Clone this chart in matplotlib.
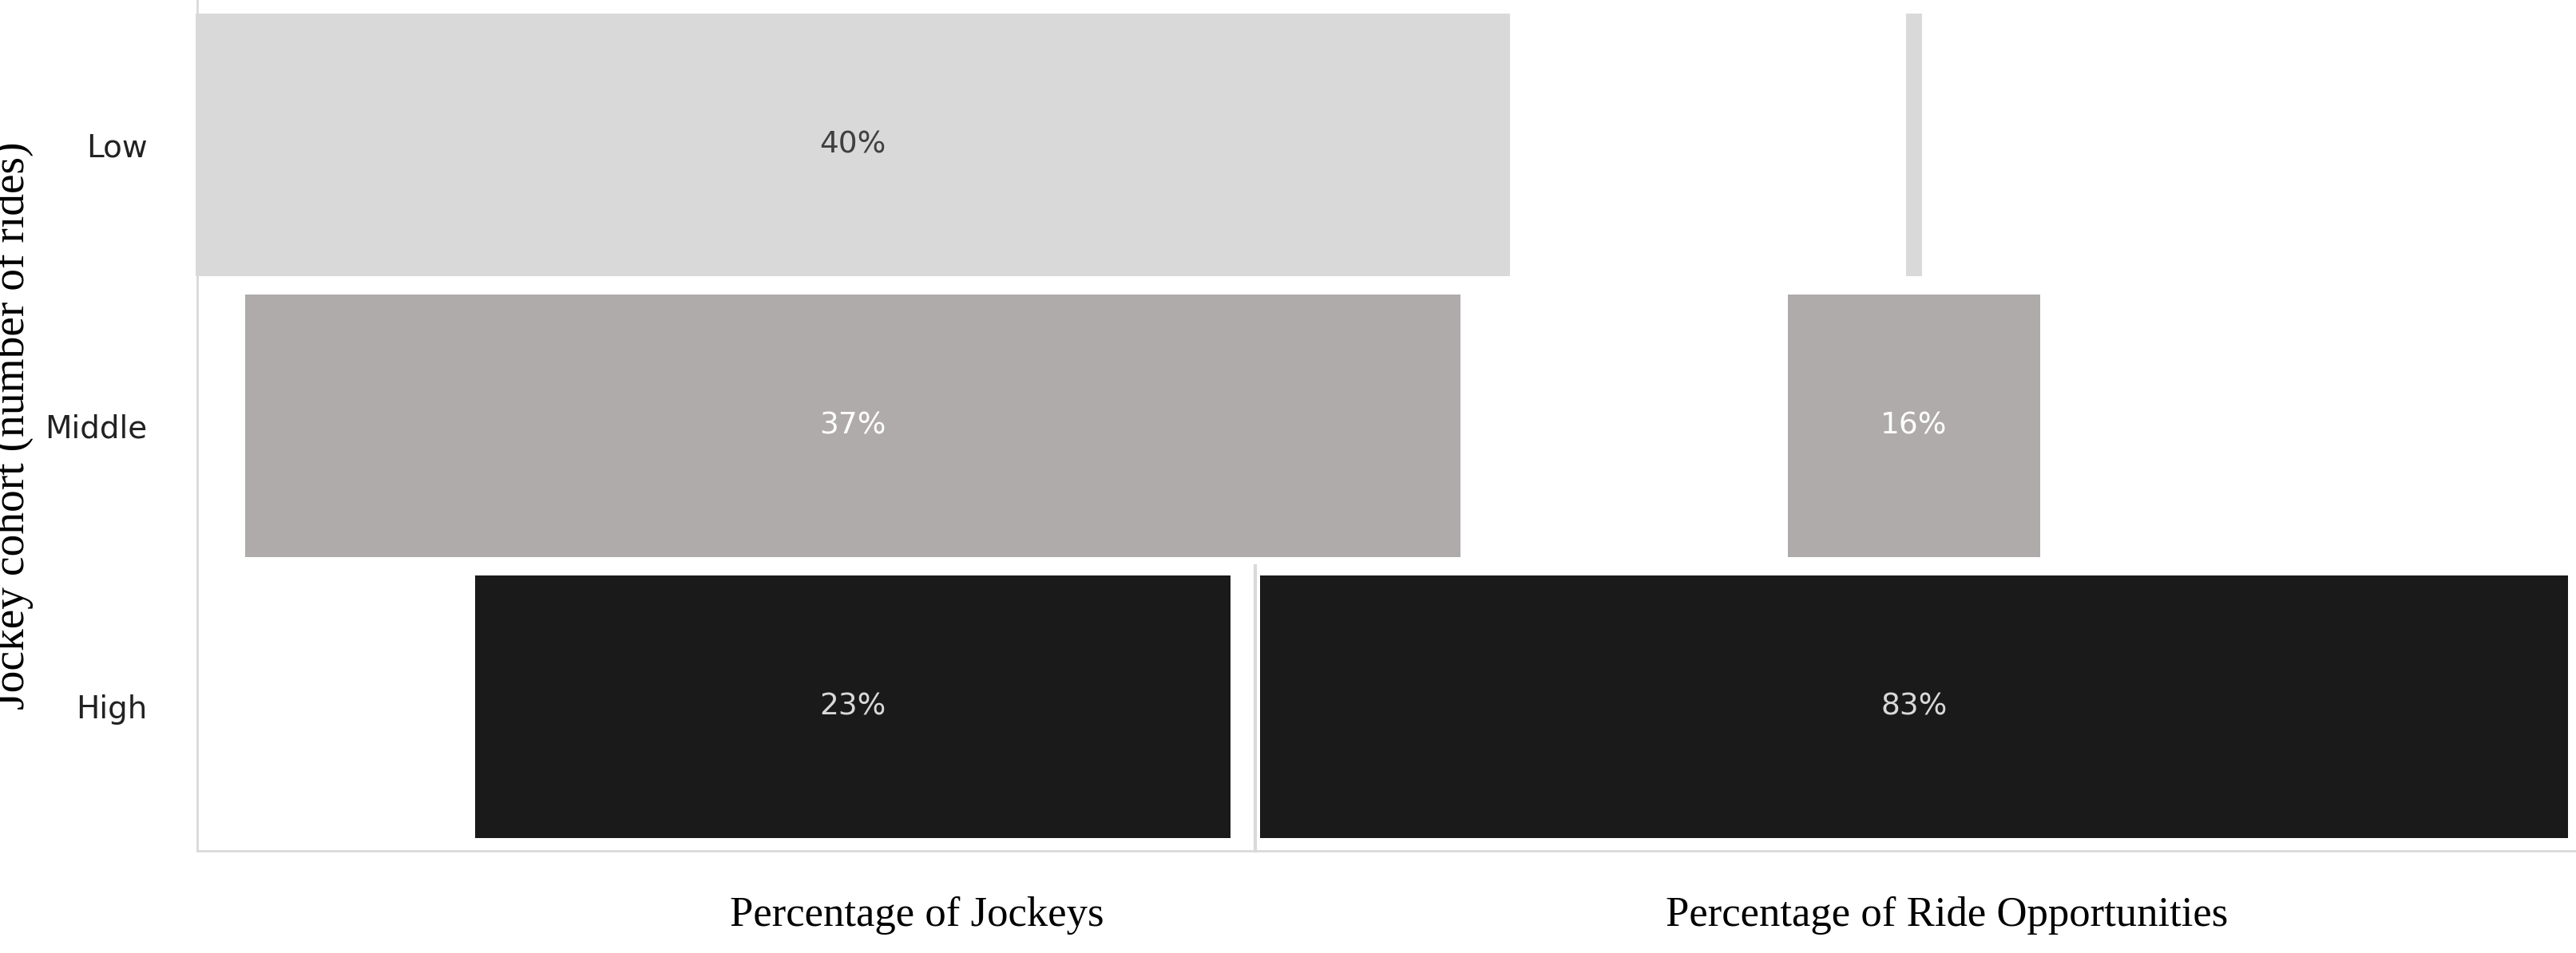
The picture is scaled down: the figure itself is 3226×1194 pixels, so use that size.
import matplotlib.pyplot as plt

cohorts = ['High', 'Middle', 'Low']
jockeys = [23, 37, 40]
rides = [83, 16, 1]
colors = ['#1a1a1a', '#afabab', '#d9d9d9']
text_colors = ['#d9d9d9', 'white', '#404040']

fig = plt.figure(figsize=(32.26, 11.94), dpi=100)
W, H = 1568, 580
bot = 1 - 518 / H
ax1 = fig.add_axes([120 / W, bot, (764 - 120) / W, 1 - bot])
ax2 = fig.add_axes([764 / W, bot, (1568 - 764) / W, 1 - bot])
ax2.set_zorder(0)
ax1.set_zorder(1)
ax1.patch.set_visible(False)

ypos = range(len(cohorts))
for ax, vals, xl in [(ax1, jockeys, (-19.95, 12.25)), (ax2, rides, (-41.8, 42))]:
    bars = ax.barh(ypos, vals, left=[-v / 2 for v in vals], height=0.935, color=colors)
    for b in bars:
        b.set_clip_on(False)
    ax.set_xlim(*xl)
    ax.set_ylim(-0.515, 2.515)
    ax.set_xticks([])
    for s in ax.spines.values():
        s.set_visible(False)
    for y, v, tc in zip(ypos, vals, text_colors):
        if v >= 5:
            ax.text(0, y, f'{v}%', ha='center', va='center', color=tc,
                    fontsize=27, family='DejaVu Sans')

ax1.spines['left'].set_visible(True)
ax1.spines['bottom'].set_visible(True)
ax1.spines['left'].set_color('#d9d9d9')
ax1.spines['bottom'].set_color('#d9d9d9')
ax1.spines['left'].set_linewidth(2)
ax1.spines['bottom'].set_linewidth(2)
ax1.set_yticks(list(ypos))
ax1.set_yticklabels(cohorts, fontsize=28, color='#222222')
ax1.tick_params(axis='y', length=0, pad=45)
ax1.set_ylabel('Jockey cohort (number of rides)', family='Liberation Serif',
               fontsize=40, labelpad=10)

ax2.set_yticks([])
ax2.spines['bottom'].set_visible(True)
ax2.spines['bottom'].set_color('#d9d9d9')
ax2.spines['bottom'].set_linewidth(2)
ax2.spines['left'].set_visible(True)
ax2.spines['left'].set_color('#d9d9d9')
ax2.spines['left'].set_linewidth(3)
ax2.spines['left'].set_bounds(-0.515, 0.5)

fig.text(558 / W, 1 - 557 / H, 'Percentage of Jockeys', family='Liberation Serif',
         fontsize=38, ha='center', va='center')
fig.text(1185 / W, 1 - 557 / H, 'Percentage of Ride Opportunities', family='Liberation Serif',
         fontsize=38, ha='center', va='center')

fig.savefig('out.png', dpi=100)
